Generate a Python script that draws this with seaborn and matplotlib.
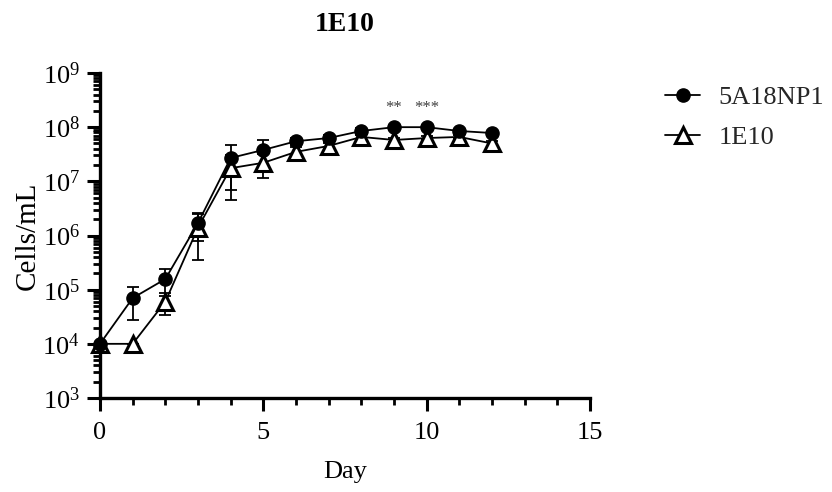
import numpy as np
import pandas as pd
import matplotlib
matplotlib.use("Agg")
import matplotlib.pyplot as plt
from matplotlib.ticker import FixedLocator, NullFormatter, LogFormatterMathtext
import seaborn as sns

# Growth curves (mean and SD, cells/mL)
days = [0, 1, 2, 3, 4, 5, 6, 7, 8, 9, 10, 11, 12]
np1_mean = [1.0e4, 7.0e4, 1.57e5, 1.7e6, 2.7e7, 3.8e7, 5.5e7, 6.3e7, 8.5e7, 1.0e8, 1.0e8, 8.5e7, 7.8e7]
np1_sd = [0, 4.3e4, 8.0e4, 0.9e6, 2.0e7, 2.0e7, 8.0e6, 8.0e6, 1.0e7, 1.0e7, 8.0e6, 5.0e6, 5.0e6]
e10_mean = [1.0e4, 1.0e4, 6.0e4, 1.4e6, 1.75e7, 2.2e7, 3.5e7, 4.5e7, 6.6e7, 5.8e7, 6.3e7, 6.6e7, 5.0e7]
e10_sd = [0, 0, 2.6e4, 1.05e6, 1.3e7, 1.05e7, 8.0e6, 6.0e6, 6.0e6, 5.0e6, 5.0e6, 5.0e6, 5.0e6]
series_names = ["5A18NP1", "1E10"]
sig_days = [9, 10]
sig_labels = ["**", "***"]
x_major = [0, 5, 10, 15]
y_major = [1e3, 1e4, 1e5, 1e6, 1e7, 1e8, 1e9]

sns.set_theme(style="ticks")
plt.rcParams["font.family"] = ["Liberation Serif", "DejaVu Serif"]
plt.rcParams["mathtext.fontset"] = "stix"

fig = plt.figure(figsize=(8.32, 4.92), dpi=100)
ax = fig.add_axes([100 / 832, 1 - 398 / 492, 490 / 832, 325 / 492])

df = pd.DataFrame({
    "Day": days * 2,
    "Cells": np1_mean + e10_mean,
    "SD": np1_sd + e10_sd,
    "Strain": [series_names[0]] * len(days) + [series_names[1]] * len(days),
})

styles = {
    "5A18NP1": dict(marker="o", markersize=9.5, markerfacecolor="black",
                    markeredgecolor="black", markeredgewidth=1.0),
    "1E10": dict(marker="^", markersize=11, markerfacecolor="white",
                 markeredgecolor="black", markeredgewidth=2.2),
}

for z, name in zip([4, 3], series_names):
    sub = df[df["Strain"] == name]
    ax.errorbar(sub["Day"], sub["Cells"], yerr=sub["SD"], fmt="none",
                ecolor="black", elinewidth=1.3, capsize=4.5, capthick=1.3,
                zorder=z - 1, clip_on=False)
    sns.lineplot(data=sub, x="Day", y="Cells", ax=ax, color="black",
                 linewidth=1.3, label=name, estimator=None, zorder=z,
                 clip_on=False, **styles[name])

ax.set_yscale("log")
ax.set_xlim(0, 15)
ax.set_ylim(1e3, 1e9)

# ticks: majors at labelled values, minors at each day / each log sub-step
ax.xaxis.set_major_locator(FixedLocator(x_major))
ax.xaxis.set_minor_locator(FixedLocator([d for d in range(0, 16) if d not in x_major]))
ax.yaxis.set_major_locator(FixedLocator(y_major))
ax.yaxis.set_major_formatter(LogFormatterMathtext())
y_minor = [m * 10.0 ** e for e in range(3, 9) for m in range(2, 10)]
ax.yaxis.set_minor_locator(FixedLocator(y_minor))
ax.yaxis.set_minor_formatter(NullFormatter())
ax.xaxis.set_minor_formatter(NullFormatter())

for side in ["top", "right"]:
    ax.spines[side].set_visible(False)
for side in ["left", "bottom"]:
    ax.spines[side].set_linewidth(2.4)
    ax.spines[side].set_color("black")

ax.tick_params(axis="both", which="major", length=9.5, width=2.2, color="black",
               labelsize=19, labelcolor="black")
ax.tick_params(axis="x", which="major", pad=8)
ax.tick_params(axis="y", which="major", pad=5)
ax.tick_params(axis="both", which="minor", length=5, width=2.0, color="black")

ax.set_xlabel("Day", fontsize=19, labelpad=12, color="black")
ax.set_ylabel("Cells/mL", fontsize=21, labelpad=1, color="black")
ax.set_title("1E10", fontsize=20, fontweight="bold", pad=30, color="black")

for d, lab in zip(sig_days, sig_labels):
    top = max(np1_mean[d], e10_mean[d])
    ax.annotate(lab, xy=(d, top), xytext=(0, 8), textcoords="offset points",
                ha="center", va="bottom", fontsize=12, color="#404040")

leg = ax.legend(loc="upper left", bbox_to_anchor=(1.104, 1.035), frameon=False,
                fontsize=19, handlelength=1.35, handletextpad=0.7, labelspacing=0.65)

ax.grid(False)
fig.savefig("out.png", dpi=100, facecolor="white")
